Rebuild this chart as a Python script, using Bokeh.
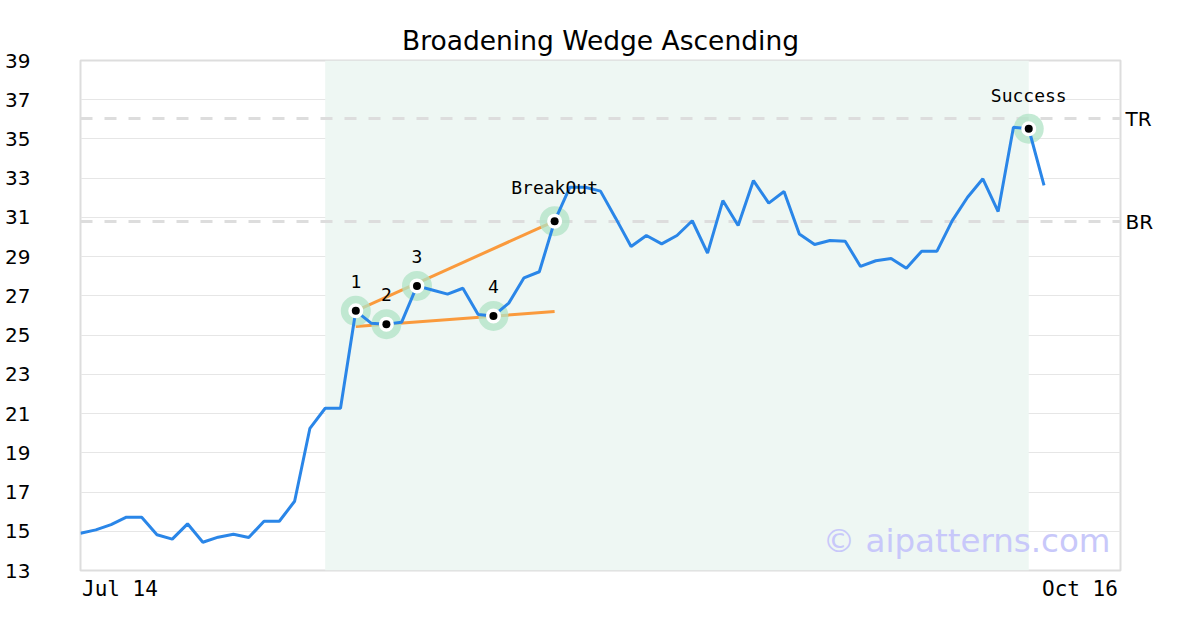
from bokeh.plotting import figure
from bokeh.models import Label, Span, BoxAnnotation, FixedTicker, LinearAxis
from bokeh.embed import file_html
from bokeh.resources import INLINE

# ---- data ----
prices = [14.90, 15.07, 15.34, 15.72, 15.72, 14.82, 14.60, 15.38, 14.44, 14.70,
          14.85, 14.68, 15.51, 15.51, 16.53, 20.25, 21.27, 21.27, 26.24, 25.61,
          25.56, 25.66, 27.51, 27.30, 27.09, 27.39, 26.05, 25.98, 26.63, 27.92,
          28.23, 30.81, 32.54, 32.54, 32.34, 30.95, 29.52, 30.08, 29.65, 30.08,
          30.83, 29.18, 31.86, 30.59, 32.88, 31.73, 32.32, 30.16, 29.62, 29.82,
          29.79, 28.50, 28.79, 28.91, 28.41, 29.28, 29.28, 30.84, 32.03, 32.97,
          31.30, 35.60, 35.52, 32.63]
idx = list(range(len(prices)))

pivot_idx = [18, 20, 22, 27, 31, 62]
pivot_labels = ["1", "2", "3", "4", "BreakOut", "Success"]
pivot_vals = [prices[i] for i in pivot_idx]

upper_x = [18, 31]
upper_y = [26.24, 30.81]
lower_x = [18, 31]
lower_y = [25.44, 26.20]

TR = 36.04
BR = 30.79
shade_start, shade_end = 16, 62
x_min, x_max = 0, 68
y_ticks = list(range(13, 40, 2))
x_tick_labels = ["Jul 14", "Oct 16"]
x_tick_pos = [2.58, 65.35]   # label centres (first / last date shown at the ends)

p = figure(width=1184, height=614, output_backend="svg", toolbar_location=None,
           x_range=(x_min, x_max), y_range=(13, 39),
           min_border_left=80, min_border_right=64, min_border_top=60, min_border_bottom=44)

p.title.text = "Broadening Wedge Ascending"
p.title.align = "center"
p.title.text_font = "DejaVu Sans"
p.title.text_font_size = "26.5px"
p.title.text_font_style = "normal"
p.title.text_color = "#000000"

p.outline_line_color = "#dddddd"
p.outline_line_width = 2
p.outline_line_alpha = 1.0

# bottom axis: only the two end dates
p.xaxis.ticker = FixedTicker(ticks=x_tick_pos)
p.xaxis.major_label_overrides = {x_tick_pos[0]: x_tick_labels[0], x_tick_pos[1]: x_tick_labels[1]}
p.xaxis.axis_line_color = None
p.xaxis.major_tick_line_color = None
p.xaxis.minor_tick_line_color = None
p.xaxis.major_tick_out = 0
p.xaxis.major_tick_in = 0
p.xaxis.major_label_standoff = 6
p.xaxis.major_label_text_font = "DejaVu Sans Mono"
p.xaxis.major_label_text_font_size = "21px"
p.xaxis.major_label_text_color = "#000000"

p.yaxis.ticker = FixedTicker(ticks=y_ticks)
p.yaxis.axis_line_color = None
p.yaxis.major_tick_line_color = None
p.yaxis.minor_tick_line_color = None
p.yaxis.major_tick_out = 0
p.yaxis.major_tick_in = 0
p.yaxis.major_label_standoff = 50
p.yaxis.major_label_text_font = "DejaVu Sans"
p.yaxis.major_label_text_font_size = "20px"
p.yaxis.major_label_text_color = "#000000"

# right axis: TR / BR level names
raxis = LinearAxis(ticker=FixedTicker(ticks=[TR, BR]),
                   major_label_overrides={TR: "TR", BR: "BR"})
raxis.axis_line_color = None
raxis.major_tick_line_color = None
raxis.minor_tick_line_color = None
raxis.major_tick_out = 0
raxis.major_tick_in = 0
raxis.major_label_standoff = 5
raxis.major_label_text_font = "DejaVu Sans"
raxis.major_label_text_font_size = "20px"
raxis.major_label_text_color = "#000000"
p.add_layout(raxis, "right")

p.xgrid.visible = False
p.ygrid.ticker = FixedTicker(ticks=y_ticks)
p.ygrid.grid_line_color = "#e6e6e6"
p.ygrid.grid_line_width = 1

p.add_layout(BoxAnnotation(left=shade_start, right=shade_end, fill_color="#eef7f3",
                           fill_alpha=1.0, line_color=None, level="underlay"))

for v in (TR, BR):
    p.add_layout(Span(location=v, dimension="width", line_color="#dddddd",
                      line_width=3, line_dash="12 12", level="underlay"))

p.line(upper_x, upper_y, line_color="#fa9a3c", line_width=3)
p.line(lower_x, lower_y, line_color="#fa9a3c", line_width=3)
p.scatter(pivot_idx, pivot_vals, size=30, fill_color="#b0e3c6", fill_alpha=0.75, line_color=None)
p.line(idx, prices, line_color="#2a86e8", line_width=3)
p.scatter(pivot_idx, pivot_vals, size=15, fill_color="white", line_color=None)
p.scatter(pivot_idx, pivot_vals, size=8, fill_color="black", line_color=None)

for i, lab, v in zip(pivot_idx, pivot_labels, pivot_vals):
    p.add_layout(Label(x=i, y=v, text=lab, y_offset=23, text_align="center",
                       text_baseline="bottom", text_font="DejaVu Sans Mono",
                       text_font_size="18px", text_color="#000000"))

p.add_layout(Label(x=x_max, y=13, text="\u00a9 aipatterns.com", x_offset=-10, y_offset=11,
                   text_align="right", text_baseline="bottom", text_font="DejaVu Sans",
                   text_font_size="32.5px", text_color="#c8c8fa"))

open("out.html", "w").write(file_html(p, INLINE))
